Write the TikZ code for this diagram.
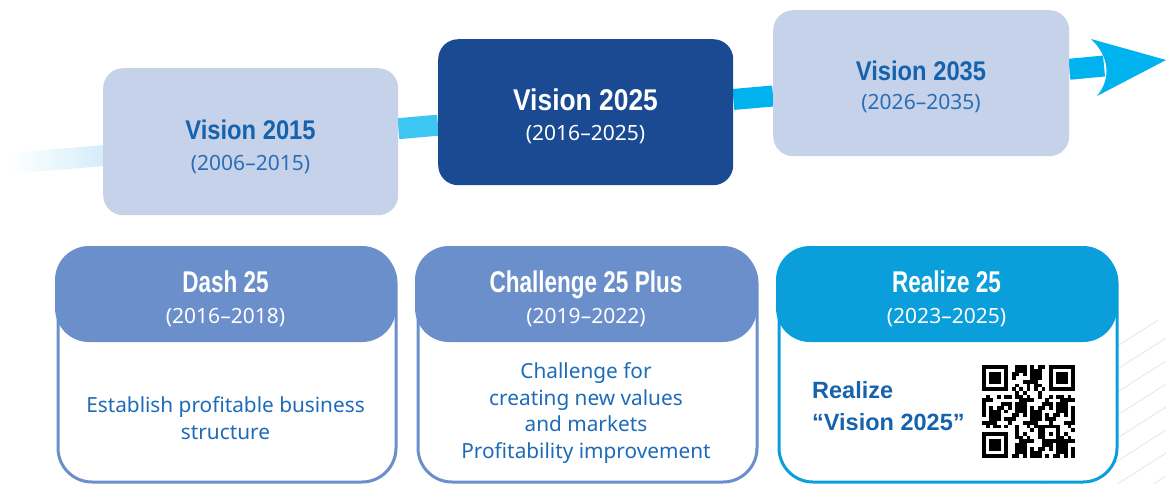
\documentclass[tikz,border=0pt]{standalone}
\usepackage{fontspec}
\setmainfont{Noto Sans}
\newfontfamily\visfont[FakeStretch=0.88]{Liberation Sans}
\newfontfamily\condfont[FakeStretch=0.75]{Liberation Sans}
\newfontfamily\rzfont{Liberation Sans}
\usetikzlibrary{backgrounds,calc}
\definecolor{lightbox}{HTML}{C5D2EA}
\definecolor{darkbox}{HTML}{1A4A92}
\definecolor{titleblue}{HTML}{1562AD}
\definecolor{yearblue}{HTML}{2A6DB5}
\definecolor{bodyblue}{HTML}{1E6BB8}
\definecolor{hdrblue}{HTML}{6A8FCB}
\definecolor{rzcyan}{HTML}{0A9FDB}
\definecolor{bandA}{HTML}{3DC6F1}
\definecolor{bandB}{HTML}{00B2EE}
\definecolor{fadecyan}{HTML}{D4EDFA}
\definecolor{decoline}{HTML}{E2EBF7}
\tikzset{
  visbox/.style={rectangle, rounded corners=20pt, inner sep=0pt, anchor=north west},
  vistitle/.style={font=\visfont\bfseries\fontsize{27}{30}\selectfont, anchor=base, inner sep=0pt},
  vistitlebig/.style={font=\visfont\bfseries\fontsize{30}{33}\selectfont, anchor=base, inner sep=0pt},
  yeartext/.style={font=\fontsize{21}{24}\selectfont, anchor=base, inner sep=0pt},
  planbox/.style={rectangle, rounded corners=34pt, line width=3pt, fill=white,
    minimum width=338pt, minimum height=233pt, inner sep=0pt, anchor=north west},
  plantitle/.style={font=\condfont\bfseries\fontsize{30}{33}\selectfont, text=white, anchor=base, inner sep=0pt},
  bodytext/.style={font=\fontsize{20.8}{26.5}\selectfont, text=bodyblue, align=center, anchor=base, inner sep=0pt},
  rztext/.style={font=\rzfont\bfseries\fontsize{23.5}{32}\selectfont, text=titleblue, anchor=base west, inner sep=0pt},
  band/.style={line width=21pt},
}
\begin{document}
\begin{tikzpicture}[x=1pt,y=-1pt]
\useasboundingbox (0,0) rectangle (1166,483);

% ---- Vision boxes ----
\node[visbox, fill=lightbox, minimum width=295pt, minimum height=147pt] (v15) at (103,68) {};
\node[visbox, fill=darkbox, minimum width=295pt, minimum height=146pt] (v25) at (438,39) {};
\node[visbox, fill=lightbox, minimum width=296pt, minimum height=146pt] (v35) at (773,10) {};

\node[vistitle, text=titleblue] (v15t) at (250.5,139) {Vision 2015};
\node[yeartext, text=yearblue] (v15y) at (250.5,170) {(2006–2015)};
\node[vistitlebig, text=white] (v25t) at (585.5,110) {Vision 2025};
\node[yeartext, text=white] (v25y) at (585.5,140) {(2016–2025)};
\node[vistitle, text=titleblue] (v35t) at (921,80) {Vision 2035};
\node[yeartext, text=yearblue] (v35y) at (921,109) {(2026–2035)};

% ---- plan boxes ----
\node[planbox, draw=hdrblue] (dash) at (56.5,247.5) {};
\fill[hdrblue, rounded corners=34pt] (55,246) rectangle (396,342);
\node[plantitle] (dasht) at (225.5,292) {Dash 25};
\node[yeartext, text=white] (dashy) at (225.5,323) {(2016–2018)};
\node[bodytext] (dashb) at (225.5,439) {Establish profitable business\\structure};

\node[planbox, draw=hdrblue, minimum width=339pt] (chal) at (416.5,247.5) {};
\fill[hdrblue, rounded corners=34pt] (415,246) rectangle (757,342);
\node[plantitle] (chalt) at (586,292) {Challenge 25 Plus};
\node[yeartext, text=white] (chaly) at (586,323) {(2019–2022)};
\node[bodytext] (chalb) at (586,458) {Challenge for\\creating new values\\and markets\\Profitability improvement};

% ---- decorative lines and bands (behind) ----
\begin{pgfonlayer}{background}
\fill[white] (0,0) rectangle (1166,483);
\begin{scope}
\clip (1040,320) rectangle (1166,483);
\foreach \k in {-1,...,8} {
  \draw[decoline, line width=1pt] (1166,{338+23*\k}) -- ++(-130,83);
}
\end{scope}
\shade[left color=white, right color=fadecyan] (10,153) -- (104,145) -- (104,166) -- (10,174) -- cycle;
\draw[band, bandA] (v15) -- (v25);
\draw[band, bandB] (v25) -- (v35);
\coordinate (ahead) at (1104,66);
\draw[band, bandB] (v35) -- (ahead);
\end{pgfonlayer}
\coordinate (tip) at (1166,60);
\fill[bandB] (tip) -- (1091,39) .. controls (1110,57) and (1111,79) .. (1097,96) -- cycle;

\node[planbox, draw=rzcyan, minimum width=338pt] (rz) at (777.5,247.5) {};
\fill[rzcyan, rounded corners=34pt] (776,246) rectangle (1117,342);
\node[plantitle] (rzt) at (946.5,292) {Realize 25};
\node[yeartext, text=white] (rzy) at (946.5,323) {(2023–2025)};
\node[rztext] (rzb1) at (812,398) {Realize};
\node[rztext] (rzb2) at (812,430) {“Vision 2025”};

% ---- QR code ----
\begin{scope}[shift={(982,365)}]
\def\qm{3.72}
\foreach \qx/\qy in {0/0,18/0,0/18} {
  \fill[black] ({\qx*\qm},{\qy*\qm}) rectangle ++({7*\qm},{7*\qm});
  \fill[white] ({(\qx+1)*\qm},{(\qy+1)*\qm}) rectangle ++({5*\qm},{5*\qm});
  \fill[black] ({(\qx+2)*\qm},{(\qy+2)*\qm}) rectangle ++({3*\qm},{3*\qm});
}
\fill[black] ({16*\qm},{16*\qm}) rectangle ++({5*\qm},{5*\qm});
\fill[white] ({17*\qm},{17*\qm}) rectangle ++({3*\qm},{3*\qm});
\fill[black] ({18*\qm},{18*\qm}) rectangle ++({\qm},{\qm});
\foreach \qi in {0,...,24} {
  \foreach \qj in {0,...,24} {
    \pgfmathtruncatemacro{\qskip}{((\qi<8)&&(\qj<8)) || ((\qi>16)&&(\qj<8)) || ((\qi<8)&&(\qj>16)) || ((\qi>15)&&(\qi<21)&&(\qj>15)&&(\qj<21))}
    \pgfmathtruncatemacro{\qbit}{((\qi==6)||(\qj==6)) ? (mod(\qi+\qj,2)==0) : (mod(7*\qi*\qi+3*\qj*\qj+5*\qi*\qj+3*\qi+11*\qj,11)<5)}
    \ifnum\qskip=0 \ifnum\qbit=1
      \fill[black] ({\qi*\qm},{\qj*\qm}) rectangle ++({\qm+0.05},{\qm+0.05});
    \fi\fi
  }
}
\end{scope}
\end{tikzpicture}
\end{document}
